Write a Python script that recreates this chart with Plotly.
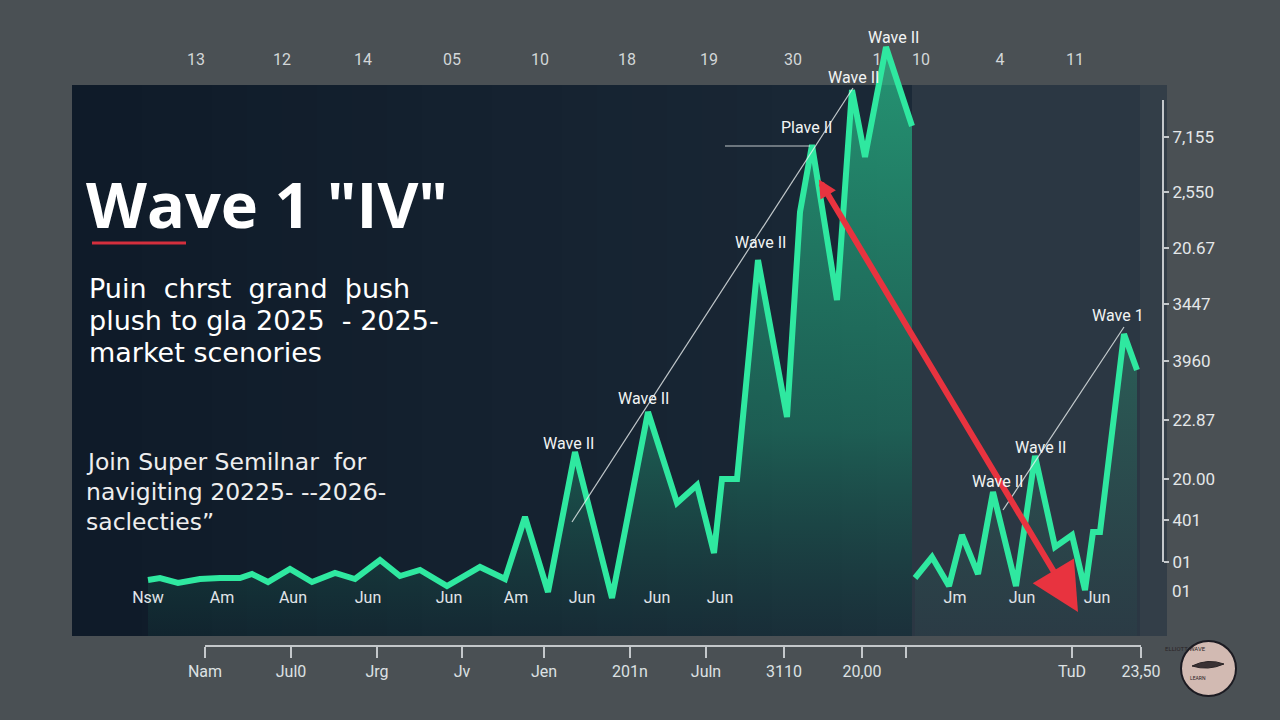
import plotly.graph_objects as go

W, H = 1280, 720

# ---------------- data ----------------
# main wave (first leg), x = session index, y = price level
left_x = [38, 44, 53, 64, 74, 84, 90, 98, 109, 120, 131.5, 141.5, 154, 164, 174, 187.5, 204, 216.5,
          226.5, 238, 251.5, 270, 288, 302.5, 312.5, 321, 325, 332.5, 343, 357.5, 364, 370, 382.5,
          390, 396.5, 407, 420]
left_y = [11.2, 11.6, 10.6, 11.4, 11.6, 11.6, 12.4, 10.8, 13.4, 10.8, 12.6, 11.4, 15.2, 12.0, 13.2,
          10.0, 13.8, 11.4, 23.8, 8.8, 36.8, 7.6, 44.8, 26.6, 30.2, 16.6, 31.4, 31.4, 75.2, 43.8,
          84.8, 98.2, 67.2, 109.2, 95.8, 117.8, 102.0]
# second leg after the break
right_x = [421.5, 430, 438.5, 445, 453, 460.5, 472, 476, 481.5, 491.5, 500, 506.5, 510.5, 514, 526, 532.5]
right_y = [11.6, 15.8, 10.0, 20.2, 12.4, 28.8, 10.0, 21.6, 36.0, 17.8, 20.2, 9.2, 20.8, 20.8, 60.4, 53.2]

# thin guide lines
guide1_x = [250, 390.5]
guide1_y = [22.8, 109.6]
guide2_x = [326.5, 369]
guide2_y = [98, 98]
guide3_x = [465.5, 526]
guide3_y = [25.2, 61.8]

# red arrow (tail -> head)
arrow_tail = (373, 91.6)
arrow_head = (503, 4.8)

# wave labels
wave_text = ["Wave II", "Wave II", "Wave II", "Plave II", "Wave II", "Wave II", "Wave II", "Wave II", "Wave 1"]
wave_x = [248, 285.5, 344, 367, 390.5, 410.5, 462.5, 484, 523]
wave_y = [38.6, 47.6, 78.8, 101.8, 111.8, 119.8, 31.0, 37.8, 64.2]

# top tick labels
top_vals = [62, 105, 145.5, 190, 234, 277.5, 318.5, 360.5, 402.5, 424.5, 464, 501.5]
top_text = ["13", "12", "14", "05", "10", "18", "19", "30", "1", "10", "4", "11"]

# inner tick labels
inner_vals = [38, 75, 110.5, 148, 188.5, 222, 255, 292.5, 324, 441.5, 475, 512.5]
inner_text = ["Nsw", "Am", "Aun", "Jun", "Jun", "Am", "Jun", "Jun", "Jun", "Jm", "Jun", "Jun"]

# bottom axis
bottom_vals = [66.5, 109.5, 152.5, 195, 236, 279, 317, 356, 395, 417, 500, 534.5]
bottom_text = ["Nam", "Jul0", "Jrg", "Jv", "Jen", "201n", "Juln", "3110", "20,00", "", "TuD", "23,50"]

# right axis
right_vals = [425, 370, 314, 258, 201, 142, 83, 42, 0]
right_text = ["7,155", "2,550", "20.67", "3447", "3960", "22.87", "20.00", "401", "01"]
right_extra = "01"

title_text = 'Wave 1 "IV"'
sub_lines = ["Puin  chrst  grand  þush", "plush to gla 2025  - 2025-", "market scenories"]
join_lines = ["Join Super Semilnar  for", "navigiting 20225- --2026-", "saclecties\u201d"]


def PX(x):
    return x / W


def PY(y):
    return 1 - y / H


GREEN = "#2fe8a0"

fig = go.Figure()

# fills + lines
fig.add_trace(go.Scatter(
    x=left_x, y=left_y, mode="lines", fill="tozeroy",
    line=dict(color=GREEN, width=6),
    fillgradient=dict(type="vertical", start=0, stop=118,
                      colorscale=[[0, "rgba(30,130,100,0.08)"], [0.35, "rgba(34,160,120,0.45)"],
                                  [1, "rgba(40,185,135,0.75)"]]),
    hoverinfo="skip", showlegend=False))
fig.add_trace(go.Scatter(
    x=right_x, y=right_y, mode="lines", fill="tozeroy",
    line=dict(color=GREEN, width=6),
    fillgradient=dict(type="vertical", start=0, stop=62,
                      colorscale=[[0, "rgba(40,140,110,0.05)"], [1, "rgba(40,170,125,0.35)"]]),
    hoverinfo="skip", showlegend=False))

for gx, gy in [(guide1_x, guide1_y), (guide2_x, guide2_y), (guide3_x, guide3_y)]:
    fig.add_trace(go.Scatter(x=gx, y=gy, mode="lines",
                             line=dict(color="rgba(235,240,240,0.8)", width=1.2),
                             hoverinfo="skip", showlegend=False))

# dummy traces so the decorative axes render
fig.add_trace(go.Scatter(x=[top_vals[0]], y=[0], xaxis="x2", yaxis="y", mode="markers",
                         marker=dict(opacity=0), hoverinfo="skip", showlegend=False))
fig.add_trace(go.Scatter(x=[bottom_vals[0]], y=[0], xaxis="x3", yaxis="y", mode="markers",
                         marker=dict(opacity=0), hoverinfo="skip", showlegend=False))
fig.add_trace(go.Scatter(x=[inner_vals[0]], y=[0], xaxis="x4", yaxis="y", mode="markers",
                         marker=dict(opacity=0), hoverinfo="skip", showlegend=False))
fig.add_trace(go.Scatter(x=[0], y=[right_vals[-1]], xaxis="x", yaxis="y2", mode="markers",
                         marker=dict(opacity=0), hoverinfo="skip", showlegend=False))

shapes = []
# panel gradient
x0p, x1p, top_p, bot_p = 72, 912, 85, 636
n = 24
c0 = (15, 27, 41)
c1 = (27, 41, 55)
for i in range(n):
    t = i / (n - 1)
    c = tuple(int(c0[k] + (c1[k] - c0[k]) * t) for k in range(3))
    xa = x0p + (x1p - x0p) * i / n
    xb = x0p + (x1p - x0p) * (i + 1) / n + 1
    shapes.append(dict(type="rect", xref="paper", yref="paper", x0=PX(xa), x1=PX(min(xb, x1p)),
                       y0=PY(bot_p), y1=PY(top_p), fillcolor="rgb(%d,%d,%d)" % c,
                       line=dict(width=0), layer="below"))
# lighter right strip
shapes.append(dict(type="rect", xref="paper", yref="paper", x0=PX(912), x1=PX(1167),
                   y0=PY(bot_p), y1=PY(top_p), fillcolor="rgb(43,55,67)",
                   line=dict(width=0), layer="below"))
shapes.append(dict(type="rect", xref="paper", yref="paper", x0=PX(1140), x1=PX(1167),
                   y0=PY(bot_p), y1=PY(top_p), fillcolor="rgba(60,70,78,0.5)",
                   line=dict(width=0), layer="below"))
# red underline
shapes.append(dict(type="line", xref="paper", yref="paper", x0=PX(92), x1=PX(186),
                   y0=PY(243), y1=PY(243), line=dict(color="#d42f3d", width=3)))
# logo
shapes.append(dict(type="circle", xref="paper", yref="paper", x0=PX(1181), x1=PX(1236),
                   y0=PY(696), y1=PY(641), fillcolor="#d2bab2",
                   line=dict(color="#1c1b22", width=2)))
ex, ey = 1208, 667
wing = "M {} {} Q {} {} {} {} Q {} {} {} {} Z".format(
    PX(ex - 16), PY(ey - 1), PX(ex), PY(ey - 9), PX(ex + 16), PY(ey - 3),
    PX(ex), PY(ey + 4), PX(ex - 16), PY(ey - 1))
shapes.append(dict(type="path", xref="paper", yref="paper", path=wing,
                   fillcolor="#3a3234", line=dict(color="#2a2426", width=1)))

annotations = []
# red arrow
annotations.append(dict(x=arrow_head[0], y=arrow_head[1], ax=arrow_tail[0], ay=arrow_tail[1],
                        xref="x", yref="y", axref="x", ayref="y", text="", showarrow=True,
                        arrowhead=2, arrowsize=1.6, arrowwidth=6, arrowcolor="#e8333f",
                        arrowside="end+start", startarrowhead=2, startarrowsize=0.6,
                        standoff=0, startstandoff=0))
for t, x, y in zip(wave_text, wave_x, wave_y):
    annotations.append(dict(x=x, y=y, xref="x", yref="y", text=t, showarrow=False,
                            font=dict(family="Roboto", size=16, color="#f2f4f4")))

annotations.append(dict(x=PX(84), y=PY(203), xref="paper", yref="paper", xanchor="left",
                        yanchor="middle", text="<b>" + title_text + "</b>", showarrow=False,
                        font=dict(family="Open Sans", size=63, color="#ffffff")))
for i, line in enumerate(sub_lines):
    annotations.append(dict(x=PX(87), y=PY(288 + 32 * i), xref="paper", yref="paper",
                            xanchor="left", yanchor="middle", text=line, showarrow=False,
                            font=dict(family="DejaVu Sans", size=27, color="#ffffff")))
for i, line in enumerate(join_lines):
    annotations.append(dict(x=PX(84), y=PY(462 + 30 * i), xref="paper", yref="paper",
                            xanchor="left", yanchor="middle", text=line, showarrow=False,
                            font=dict(family="DejaVu Sans", size=23.5, color="#eeeeee")))
annotations.append(dict(x=PX(1170), y=PY(591), xref="paper", yref="paper", xanchor="left",
                        yanchor="middle", text=right_extra, showarrow=False,
                        font=dict(family="Roboto", size=17, color="#e4e7e9")))
annotations.append(dict(x=PX(1208), y=PY(654), xref="paper", yref="paper", text="ELLIOTT WAVE",
                        showarrow=False, font=dict(family="Roboto", size=6, color="#2a2426")))
annotations.append(dict(x=PX(1208), y=PY(683), xref="paper", yref="paper", text="LEARN",
                        showarrow=False, font=dict(family="Roboto", size=5, color="#2a2426")))

axis_font = dict(family="Roboto", size=16, color="#dde1e3")

fig.update_layout(
    width=W, height=H, margin=dict(l=0, r=0, t=0, b=0, autoexpand=False),
    paper_bgcolor="#4a5054", plot_bgcolor="rgba(0,0,0,0)",
    showlegend=False, shapes=shapes, annotations=annotations,
    xaxis=dict(domain=[PX(72), PX(1165)], range=[0, 546.5], visible=False, fixedrange=True),
    yaxis=dict(domain=[PY(636), PY(16)], range=[0, 124], visible=False, fixedrange=True),
    xaxis2=dict(overlaying="x", side="top", anchor="free", position=PY(68), range=[0, 546.5],
                tickmode="array", tickvals=top_vals, ticktext=top_text, showgrid=False,
                zeroline=False, showline=False, ticks="",
                tickfont=dict(family="Roboto", size=16, color="#d3d7d9")),
    xaxis4=dict(overlaying="x", side="bottom", anchor="free", position=PY(586), range=[0, 546.5],
                tickmode="array", tickvals=inner_vals, ticktext=inner_text, showgrid=False,
                zeroline=False, showline=False, ticks="",
                tickfont=dict(family="Roboto", size=16, color="#e2e6ea")),
    xaxis3=dict(domain=[PX(205), PX(1141)], anchor="free", position=PY(646), side="bottom",
                range=[66.5, 534.5], tickmode="array", tickvals=bottom_vals, ticktext=bottom_text,
                showgrid=False, zeroline=False, showline=True, linecolor="#c4c8cb", linewidth=2,
                ticks="outside", ticklen=11, tickwidth=2, tickcolor="#c4c8cb",
                tickfont=axis_font),
    yaxis2=dict(domain=[PY(562), PY(100)], anchor="free", position=PX(1163), side="right",
                range=[0, 462], tickmode="array", tickvals=right_vals, ticktext=right_text,
                showgrid=False, zeroline=False, showline=True, linecolor="#c4c8cb", linewidth=2,
                ticks="outside", ticklen=5, tickwidth=2, tickcolor="#c4c8cb",
                tickfont=dict(family="Roboto", size=17, color="#e4e7e9")),
)

fig.write_html("out.html")
